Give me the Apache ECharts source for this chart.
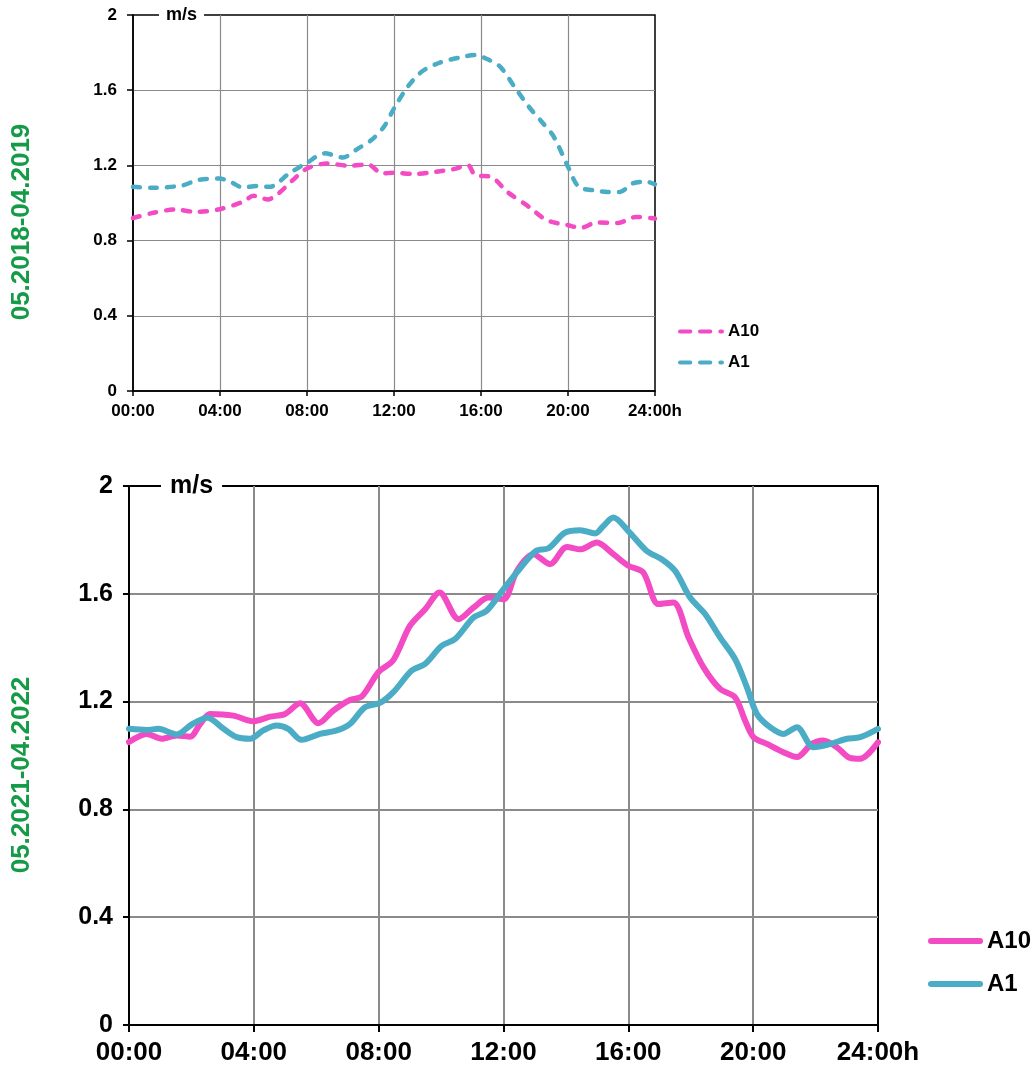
<!DOCTYPE html>
<html>
<head>
<meta charset="utf-8">
<title>A10 / A1 m/s</title>
<script src="https://cdn.jsdelivr.net/npm/echarts@6/dist/echarts.min.js"></script>
<style>
  html, body { margin: 0; padding: 0; background: #fff; }
  #chart { width: 1033px; height: 1069px; }
</style>
</head>
<body>
<div id="chart"></div>
<script>
// Daily course of wind speed (m/s) by hour of day, two periods.
// Each point is [hour, m/s].
const periodLabels = ['05.2018-04.2019', '05.2021-04.2022'];
const seriesNames = ['A10', 'A1'];
const hourTicks = [0, 4, 8, 12, 16, 20, 24];

const a10Period1 = [
  [0, 0.92], [0.94, 0.948], [1.92, 0.965], [2.91, 0.953], [3.98, 0.967], [5.05, 1.006],
  [5.54, 1.038], [6.2, 1.019], [6.69, 1.051], [7.35, 1.122], [8.0, 1.184], [8.91, 1.21],
  [9.98, 1.198], [10.8, 1.205], [11.46, 1.157], [12.0, 1.161], [12.94, 1.154], [13.92, 1.166],
  [14.74, 1.18], [15.4, 1.201], [15.73, 1.148], [16.47, 1.139], [17.21, 1.059], [18.2, 0.98],
  [19.02, 0.909], [20.0, 0.882], [20.58, 0.868], [21.32, 0.896], [22.3, 0.894], [23.13, 0.926],
  [24, 0.917]
];

const a1Period1 = [
  [0, 1.086], [0.94, 1.081], [2.25, 1.093], [2.99, 1.122], [3.98, 1.13], [4.47, 1.113],
  [5.05, 1.083], [5.7, 1.09], [6.28, 1.086], [7.18, 1.157], [8.0, 1.214], [8.82, 1.264],
  [9.65, 1.242], [10.31, 1.287], [10.96, 1.335], [11.54, 1.406], [12.0, 1.503], [12.61, 1.615],
  [13.27, 1.698], [14.09, 1.746], [15.07, 1.775], [15.73, 1.787], [16.22, 1.769], [16.88, 1.725],
  [17.54, 1.618], [18.2, 1.512], [18.86, 1.423], [19.35, 1.352], [20.0, 1.193], [20.49, 1.086],
  [21.15, 1.068], [21.81, 1.059], [22.39, 1.059], [22.96, 1.104], [23.62, 1.113], [24, 1.099]
];

const a10Period2 = [
  [0, 1.05], [0.57, 1.08], [1.05, 1.062], [1.53, 1.074], [1.96, 1.07], [2.28, 1.117],
  [2.6, 1.154], [3.34, 1.148], [3.98, 1.127], [4.52, 1.144], [5.0, 1.154], [5.48, 1.194],
  [6.07, 1.12], [6.55, 1.167], [7.08, 1.206], [7.46, 1.219], [7.99, 1.309], [8.47, 1.354],
  [9.0, 1.481], [9.49, 1.543], [9.95, 1.605], [10.56, 1.506], [11.04, 1.549], [11.52, 1.586],
  [12.0, 1.58], [12.43, 1.685], [12.96, 1.747], [13.49, 1.71], [14.03, 1.774], [14.46, 1.765],
  [14.99, 1.79], [15.52, 1.747], [16.0, 1.704], [16.48, 1.679], [16.96, 1.562], [17.44, 1.568],
  [17.93, 1.438], [18.41, 1.327], [18.94, 1.247], [19.42, 1.216], [19.74, 1.13], [20.01, 1.068],
  [20.44, 1.043], [20.97, 1.012], [21.4, 0.994], [21.88, 1.043], [22.25, 1.056], [22.68, 1.031],
  [23.1, 0.991], [23.43, 0.988], [24, 1.049]
];

const a1Period2 = [
  [0, 1.099], [0.57, 1.095], [0.94, 1.099], [1.53, 1.078], [2.01, 1.115], [2.51, 1.14],
  [3.03, 1.099], [3.45, 1.068], [3.88, 1.062], [4.3, 1.093], [4.73, 1.111], [5.1, 1.099],
  [5.53, 1.058], [6.12, 1.08], [6.66, 1.093], [7.08, 1.117], [7.56, 1.179], [8.04, 1.195],
  [8.47, 1.235], [9.06, 1.315], [9.49, 1.34], [10.02, 1.407], [10.45, 1.432], [11.04, 1.512],
  [11.46, 1.537], [12.0, 1.617], [12.53, 1.694], [13.04, 1.759], [13.44, 1.769], [13.97, 1.827],
  [14.46, 1.836], [14.94, 1.824], [15.2, 1.852], [15.52, 1.883], [16.0, 1.833], [16.59, 1.759],
  [17.07, 1.728], [17.5, 1.685], [17.98, 1.586], [18.46, 1.525], [18.94, 1.438], [19.42, 1.358],
  [19.8, 1.253], [20.12, 1.154], [20.54, 1.105], [20.97, 1.08], [21.4, 1.105], [21.93, 1.031],
  [22.47, 1.043], [23.0, 1.062], [23.43, 1.068], [24, 1.099]
];

const PINK = '#F24BC4';
const BLUE = '#4BACC6';
const GREEN = '#159A48';
const FONT = '"Liberation Sans", Arial, sans-serif';

// Legend glyphs: a dashed stroke (two dashes and a dot) and a solid rounded stroke.
const DASHED_ICON = 'path://M2,0H12.3A2,2,0,0,1,12.3,4H2A2,2,0,0,1,2,0Z'
  + 'M22,0H32.3A2,2,0,0,1,32.3,4H22A2,2,0,0,1,22,0Z'
  + 'M42.3,0H44A2,2,0,0,1,44,4H42.3A2,2,0,0,1,42.3,0Z';
const SOLID_ICON = 'path://M3,0H52A3,3,0,0,1,52,6H3A3,3,0,0,1,3,0Z';

function hourLabel(v) {
  const h = Math.round(v);
  return (h < 10 ? '0' : '') + h + ':00' + (h === 24 ? 'h' : '');
}
function speedLabel(v) {
  const r = Math.round(v * 10) / 10;
  return (r === 0 || r === 2) ? String(r) : r.toFixed(1);
}

function xAxisFor(gridIndex, fontSize, margin, tickLen, lineWidth) {
  return {
    type: 'value', gridIndex, min: 0, max: 24, interval: 4,
    axisLine: { show: true, onZero: false, lineStyle: { color: '#000', width: lineWidth } },
    axisTick: { show: true, length: tickLen, lineStyle: { color: '#000', width: lineWidth } },
    axisLabel: { formatter: hourLabel, fontSize, fontWeight: 'bold', color: '#000', fontFamily: FONT, margin },
    splitLine: { show: true, showMinLine: false, showMaxLine: false,
      lineStyle: { color: '#8a8a8a', width: gridIndex === 0 ? 1.2 : 2 } }
  };
}
function yAxisFor(gridIndex, fontSize, margin, lineWidth) {
  return {
    type: 'value', gridIndex, min: 0, max: 2, interval: 0.4,
    axisLine: { show: true, lineStyle: { color: '#000', width: lineWidth } },
    axisTick: { show: true, length: 6, lineStyle: { color: '#000', width: lineWidth } },
    axisLabel: { formatter: speedLabel, fontSize, fontWeight: 'bold', color: '#000', fontFamily: FONT, margin },
    splitLine: { show: true, showMinLine: false, showMaxLine: false,
      lineStyle: { color: '#8a8a8a', width: gridIndex === 0 ? 1.2 : 2 } }
  };
}

function lineSeries(name, data, color, gridIdx, width, dashed) {
  return {
    name: name + ' ' + periodLabels[gridIdx],
    type: 'line', xAxisIndex: gridIdx, yAxisIndex: gridIdx,
    data, smooth: 0.3, symbol: 'none', clip: true,
    lineStyle: dashed
      ? { color, width, type: [7, 10], cap: 'round', join: 'round' }
      : { color, width, cap: 'round', join: 'round' },
    itemStyle: { color }
  };
}

const chart = echarts.init(document.getElementById('chart'), null, { renderer: 'canvas' });

chart.setOption({
  animation: false,
  backgroundColor: '#fff',
  textStyle: { fontFamily: FONT },
  grid: [
    { left: 133, top: 15, width: 522, height: 376, show: true, borderColor: '#000', borderWidth: 1.5, backgroundColor: 'transparent' },
    { left: 129, top: 486, width: 749, height: 539, show: true, borderColor: '#000', borderWidth: 2, backgroundColor: 'transparent' }
  ],
  xAxis: [xAxisFor(0, 17, 12, 5, 1.5), xAxisFor(1, 26, 15, 7, 2)],
  yAxis: [yAxisFor(0, 17, 16, 1.5), yAxisFor(1, 25, 16, 2)],
  legend: [
    {
      data: seriesNames.map(n => n + ' ' + periodLabels[0]),
      orient: 'vertical', left: 678, top: 323, padding: 0,
      icon: DASHED_ICON, itemWidth: 46, itemHeight: 4, itemGap: 14, symbolKeepAspect: false,
      itemStyle: { borderWidth: 0 },
      formatter: n => n.split(' ')[0],
      textStyle: { fontSize: 17, fontWeight: 'bold', color: '#000', fontFamily: FONT, padding: [0, 0, 0, -1] },
      selectedMode: false
    },
    {
      data: seriesNames.map(n => n + ' ' + periodLabels[1]),
      orient: 'vertical', left: 928, top: 929, padding: 0,
      icon: SOLID_ICON, itemWidth: 55, itemHeight: 6, itemGap: 19, symbolKeepAspect: false,
      itemStyle: { borderWidth: 0 },
      formatter: n => n.split(' ')[0],
      textStyle: { fontSize: 24, fontWeight: 'bold', color: '#000', fontFamily: FONT, padding: [0, 0, 0, -1] },
      selectedMode: false
    }
  ],
  graphic: [
    { type: 'text', left: 159, top: 6, z: 100,
      style: { text: 'm/s', font: 'bold 18px ' + FONT, fill: '#000', backgroundColor: '#fff', padding: [0, 7] } },
    { type: 'text', left: 161, top: 474, z: 100,
      style: { text: 'm/s', font: 'bold 25px ' + FONT, fill: '#000', backgroundColor: '#fff', padding: [0, 9] } },
    { type: 'text', x: 22, y: 222, rotation: Math.PI / 2, z: 100,
      style: { text: periodLabels[0], font: 'bold 26px ' + FONT, fill: GREEN, align: 'center', verticalAlign: 'middle' } },
    { type: 'text', x: 22, y: 775, rotation: Math.PI / 2, z: 100,
      style: { text: periodLabels[1], font: 'bold 26px ' + FONT, fill: GREEN, align: 'center', verticalAlign: 'middle' } }
  ],
  series: [
    lineSeries('A10', a10Period1, PINK, 0, 4.5, true),
    lineSeries('A1', a1Period1, BLUE, 0, 4.5, true),
    lineSeries('A10', a10Period2, PINK, 1, 6, false),
    lineSeries('A1', a1Period2, BLUE, 1, 6, false)
  ]
});
</script>
</body>
</html>
